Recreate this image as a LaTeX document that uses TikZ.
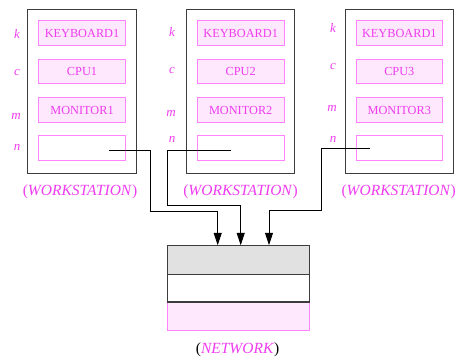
\documentclass[tikz,border=0pt]{standalone}
\usepackage{fontspec}
\setmainfont{Liberation Serif}
\usetikzlibrary{arrows.meta}
\definecolor{mag}{RGB}{238,60,238}
\definecolor{pinkline}{RGB}{255,130,255}
\definecolor{pinkfill}{RGB}{253,232,253}
\definecolor{netgray}{RGB}{225,225,225}
\definecolor{frame}{RGB}{60,60,60}
\tikzset{
  outerbox/.style={draw=frame, line width=0.9bp, minimum width=108.3bp, minimum height=164bp, inner sep=0pt},
  devbox/.style={draw=pinkline, fill=pinkfill, line width=0.9bp, minimum width=86.5bp, minimum height=24.8bp, inner sep=0pt, text=mag, font=\rmfamily\fontsize{12.3bp}{14bp}\selectfont},
  emptybox/.style={devbox, fill=white},
  portlbl/.style={text=mag, inner sep=0pt, font=\rmfamily\fontsize{13bp}{15bp}\selectfont\itshape},
  wslbl/.style={text=mag, inner sep=0pt, font=\rmfamily\fontsize{15.5bp}{18bp}\selectfont},
  netbox/.style={draw=frame, line width=0.9bp, minimum width=141.6bp, inner sep=0pt},
  conn/.style={draw=frame, line width=0.9bp},
  arr/.style={conn, -{Triangle[length=12.5bp,width=8bp]}, black}
}
\begin{document}
\begin{tikzpicture}[x=1bp,y=-1bp]
\useasboundingbox (0,0) rectangle (460,357);
% workstation 1
\node[outerbox] (w1) at (81.8,91) {};
\node[devbox] (k1) at (82,33) {KEYBOARD1};
\node[devbox] (c1) at (82,71.5) {CPU1};
\node[devbox] (m1) at (82,110.2) {MONITOR1};
\node[emptybox] (n1) at (82,148.2) {};
\node[portlbl] (lk1) at (17,34) {k};
\node[portlbl] (lc1) at (17,72) {c};
\node[portlbl] (lm1) at (16,116) {m};
\node[portlbl] (ln1) at (17,147) {n};
\node[wslbl] (ws1) at (80,192) {(\textit{WORKSTATION})};
% workstation 2
\node[outerbox] (w2) at (240.3,91) {};
\node[devbox] (k2) at (240.7,33) {KEYBOARD1};
\node[devbox] (c2) at (240.7,71.5) {CPU2};
\node[devbox] (m2) at (240.7,110.2) {MONITOR2};
\node[emptybox] (n2) at (240.7,148.2) {};
\node[portlbl] (lk2) at (172,32) {k};
\node[portlbl] (lc2) at (172,70) {c};
\node[portlbl] (lm2) at (171,113) {m};
\node[portlbl] (ln2) at (172,139) {n};
\node[wslbl] (ws2) at (240.5,192) {(\textit{WORKSTATION})};
% workstation 3
\node[outerbox] (w3) at (399.5,91) {};
\node[devbox] (k3) at (399.3,33) {KEYBOARD1};
\node[devbox] (c3) at (399.3,71.5) {CPU3};
\node[devbox] (m3) at (399.3,110.2) {MONITOR3};
\node[emptybox] (n3) at (399.3,148.2) {};
\node[portlbl] (lk3) at (333,28) {k};
\node[portlbl] (lc3) at (333,66) {c};
\node[portlbl] (lm3) at (332,108) {m};
\node[portlbl] (ln3) at (333,139) {n};
\node[wslbl] (ws3) at (398.7,192) {(\textit{WORKSTATION})};
% network
\node[netbox, draw=pinkline, fill=pinkfill, minimum height=29bp] (net3) at (238.5,316.2) {};
\node[netbox, fill=white, minimum height=27.7bp] (net2) at (238.5,287.85) {};
\node[netbox, fill=netgray, minimum height=28.3bp] (net1) at (238.5,259.85) {};
\draw[conn] (net2.south west) -- (net2.south east);
\node[wslbl, text=black] (netlbl) at (237.5,350) {(\textcolor{mag}{\textit{NETWORK}})};
% connectors
\coordinate (s1) at (109,150);
\coordinate (s2) at (231,150);
\coordinate (s3) at (370,148);
\coordinate (t1) at ([xshift=-20.8bp]net1.north);
\coordinate (t2) at ([xshift=2.2bp]net1.north);
\coordinate (t3) at ([xshift=30.5bp]net1.north);
\draw[arr] (s1) -- (150,150) -- (150,211.7) -| (t1);
\draw[arr] (s2) -- (167.3,150) -- (167.3,205) -| (t2);
\draw[arr] (s3) -- (321,148) -- (321,210.7) -| (t3);
\end{tikzpicture}
\end{document}
